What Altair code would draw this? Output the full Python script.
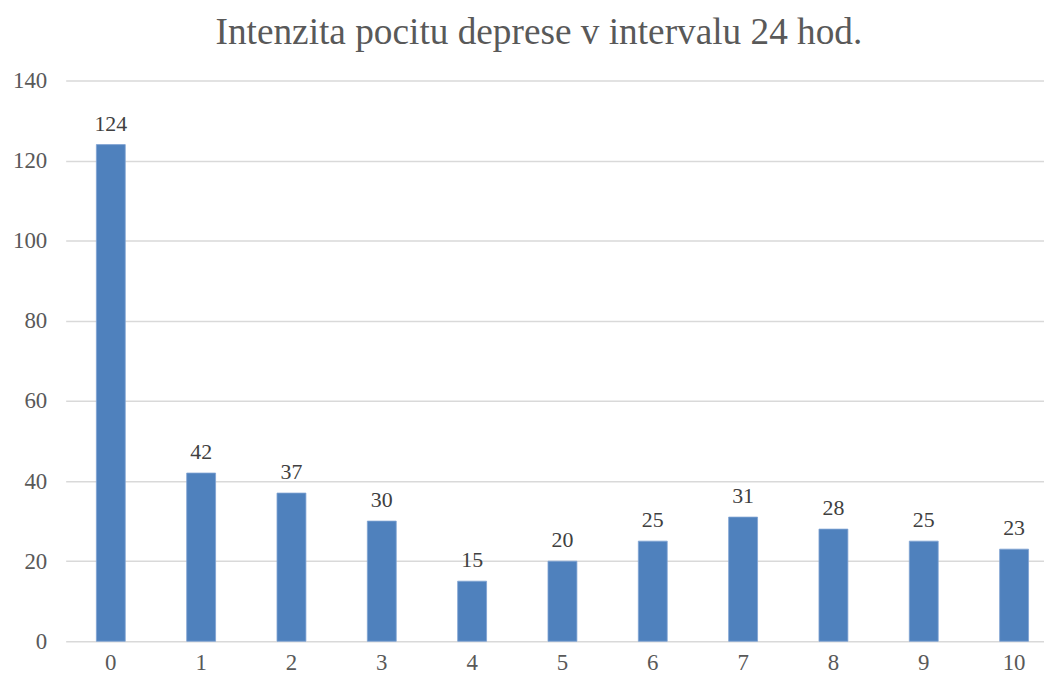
import altair as alt
import pandas as pd

categories = ["0", "1", "2", "3", "4", "5", "6", "7", "8", "9", "10"]
values = [124, 42, 37, 30, 15, 20, 25, 31, 28, 25, 23]

df = pd.DataFrame({"cat": categories, "val": values})

FONT = "Liberation Serif"
GREY = "#595959"

x = alt.X(
    "cat:N",
    sort=categories,
    title=None,
    scale=alt.Scale(paddingInner=0.68, paddingOuter=0.2555, align=0.665, round=False),
    axis=alt.Axis(
        labelAngle=0, labelFont=FONT, labelFontSize=23, labelColor=GREY,
        labelPadding=10, ticks=False, tickSize=0, domain=False, grid=False,
    ),
)
y = alt.Y(
    "val:Q",
    title=None,
    scale=alt.Scale(domain=[0, 140], nice=False),
    axis=alt.Axis(
        values=[0, 20, 40, 60, 80, 100, 120, 140], labelFont=FONT,
        labelFontSize=23, labelColor=GREY, labelPadding=19, ticks=False,
        tickSize=0, domain=False, grid=True, gridColor="#D9D9D9", gridWidth=1.5,
    ),
)

bars = alt.Chart(df).mark_bar(color="#4F81BD", stroke="#7FA3D3", strokeWidth=0.8).encode(x=x, y=y)
labels = alt.Chart(df).mark_text(
    font=FONT, fontSize=22, color="#404040", baseline="alphabetic", dy=-14
).encode(x=x, y=y, text="val:Q")

chart = (bars + labels).properties(
    width=984,
    height=564,
    padding={"left": 58, "top": 71, "right": 0, "bottom": 33},
    autosize=alt.AutoSizeParams(type="none"),
    title=alt.TitleParams(
        "Intenzita pocitu deprese v intervalu 24 hod.",
        font=FONT, fontSize=37.5, fontWeight="normal", color=GREY,
        anchor="middle", frame="group", baseline="alphabetic", offset=-12, dx=-16,
    ),
).configure_view(stroke=None)

chart.save("out.html", embed_options={"renderer": "svg", "actions": False})
